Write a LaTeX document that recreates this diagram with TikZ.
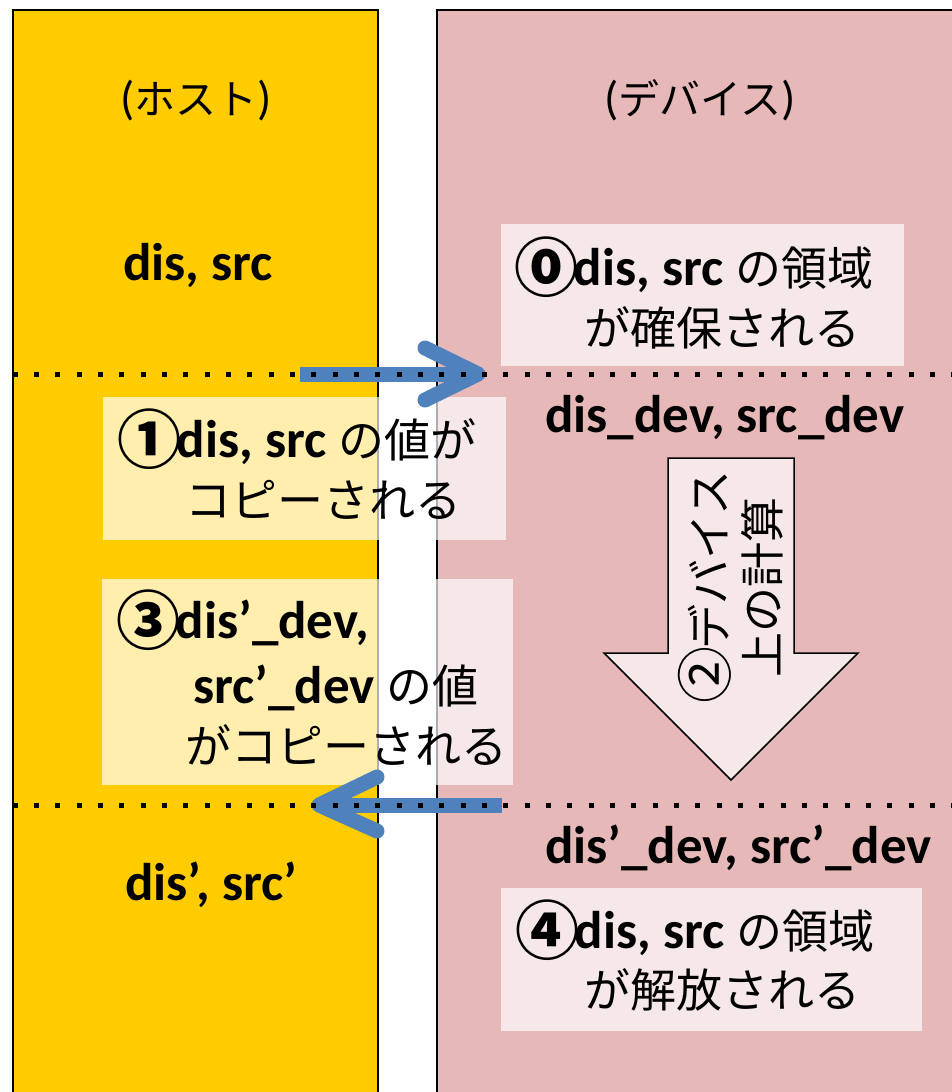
\documentclass[tikz,border=0pt]{standalone}
\usepackage{fontspec}
\setmainfont{Carlito}
\newfontfamily\jpfont{Noto Sans CJK JP}
\newcommand\J[1]{{\jpfont\mdseries\fontsize{46}{60}\selectfont #1}}
\newcommand\Cd[1]{\raisebox{-6pt}{\jpfont\bfseries\fontsize{64}{60}\selectfont #1}\kern-5pt}
\newcommand\Lt{\fontsize{53}{60}\selectfont\bfseries}
\newcommand\Tj[1]{{\jpfont\fontsize{41}{54}\selectfont #1}}
\definecolor{hostc}{HTML}{FFCC00}
\definecolor{devc}{HTML}{E6B9B8}
\definecolor{arrowblue}{HTML}{4F81BD}
\tikzset{
  column/.style={draw=black, line width=1.5pt},
  overlay box/.style={fill=white, fill opacity=0.68, draw=none, inner sep=0pt},
  line/.style={anchor=base west, inner sep=0pt, font=\Lt},
  title/.style={anchor=base, inner sep=0pt, font=\fontsize{47}{54}\selectfont},
  dotline/.style={line width=5pt, dash pattern=on 5pt off 16.33pt, black},
  bluearrow/.style={arrowblue, line width=15pt, line cap=round, line join=round},
  blueshaft/.style={arrowblue, line width=15pt, line cap=butt},
  bigarrow/.style={fill=white, fill opacity=0.68, draw=black, line width=1.5pt, line join=miter}
}
\begin{document}
\begin{tikzpicture}[x=1pt,y=-1pt]
\useasboundingbox (0,0) rectangle (952,1092);
% columns
\fill[white] (0,0) rectangle (952,1092);
\draw[column, fill=hostc] (13,10) rectangle (378,1110);
\draw[column, fill=devc] (437,10) rectangle (970,1110);

% titles
\node[title] (hosttitle) at (196,114) {(\Tj{ホスト})};
\node[title] (devtitle) at (700,114) {(\Tj{デバイス})};

% variable labels
\node[line] (hostA) at (123,280) {dis, src};
\node[line] (devA) at (545,432) {dis\_dev, src\_dev};
\node[line] (devB) at (545,863) {dis’\_dev, src’\_dev};
\node[line] (hostB) at (125,900) {dis’, src’};

% big down arrow
\draw[bigarrow] (668,458) -- (794,458) -- (794,653) -- (858,653) -- (731,780) -- (604,653) -- (668,653) -- cycle;
\node[rotate=90, align=center, inner sep=0pt, font=\jpfont\fontsize{45}{53}\selectfont] (calc) at (731,587) {{\fontsize{57}{53}\selectfont ②}\kern-3pt デバイス\\上の計算};

% overlay boxes
\node[overlay box, minimum width=403, minimum height=142] (box0) at (702.5,295) {};
\node[overlay box, minimum width=403, minimum height=143] (box1) at (304.5,468.5) {};
\node[overlay box, minimum width=411, minimum height=206] (box3) at (307.5,682) {};
\node[overlay box, minimum width=421, minimum height=143] (box4) at (711.5,959.5) {};

% box texts
\node[line] (t0a) at (514.5,285) {\Cd{⓪}dis, src \J{の領域}};
\node[line] (t0b) at (584,345) {\J{が確保される}};
\node[line] (t1a) at (117.5,457) {\Cd{①}dis, src \J{の値が}};
\node[line] (t1b) at (185,517) {\J{コピーされる}};
\node[line] (t3a) at (116.5,638) {\Cd{③}dis’\_dev,};
\node[line] (t3b) at (193,703) {src’\_dev \J{の値}};
\node[line] (t3c) at (185,763) {\J{がコピーされる}};
\node[line] (t4a) at (515.5,948) {\Cd{④}dis, src \J{の領域}};
\node[line] (t4b) at (584,1007) {\J{が解放される}};

% blue arrows
\coordinate (c1s) at (300,374);
\coordinate (c1t) at (478,374);
\coordinate (c1u) at (425,348);
\coordinate (c1d) at (425,400);
\draw[blueshaft] (c1s) -- (c1t);
\draw[bluearrow] (c1u) -- (c1t) -- (c1d);

\coordinate (c3s) at (502,805);
\coordinate (c3t) at (319,805);
\coordinate (c3u) at (377,777);
\coordinate (c3d) at (377,831);
\draw[blueshaft] (c3s) -- (c3t);
\draw[bluearrow] (c3u) -- (c3t) -- (c3d);

% dotted separators
\coordinate (d1l) at (12.7,374);
\coordinate (d1r) at (952,374);
\coordinate (d2l) at (12.7,805);
\coordinate (d2r) at (952,805);
\draw[dotline] (d1l) -- (d1r);
\draw[dotline] (d2l) -- (d2r);
\end{tikzpicture}
\end{document}
